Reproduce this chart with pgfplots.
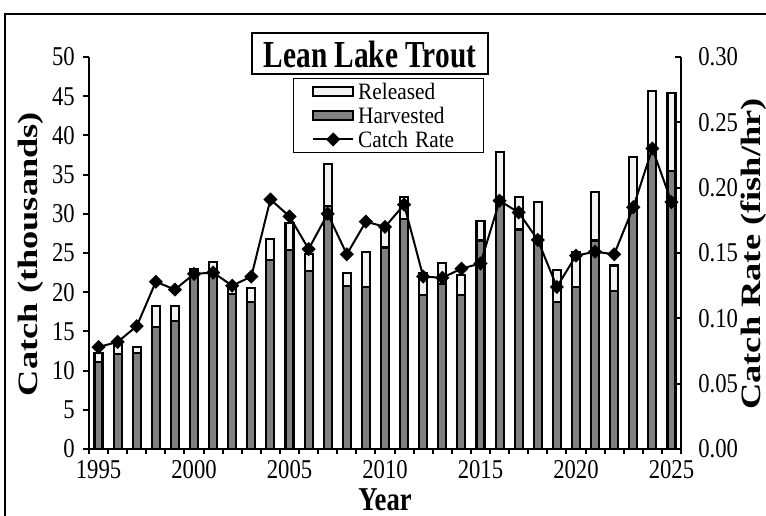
\documentclass[border=0pt]{standalone}
\usepackage{pgfplots}
\pgfplotsset{compat=1.18}
\usepackage{pgfplotstable}
\usepackage{fontspec}
\setmainfont{Liberation Serif}
\definecolor{harvc}{HTML}{808080}
\definecolor{relc}{HTML}{F2F2F2}

\pgfplotstableread{
year harv rel rate
1995 11.1 1.2 0.078
1996 12.1 1.5 0.082
1997 12.2 0.8 0.094
1998 15.6 2.6 0.128
1999 16.3 1.9 0.122
2000 22.2 0.7 0.134
2001 22.8 1.0 0.135
2002 19.8 0.8 0.125
2003 18.8 1.7 0.132
2004 24.1 2.7 0.191
2005 25.4 3.4 0.178
2006 22.7 2.2 0.153
2007 31.0 5.4 0.180
2008 20.8 1.7 0.149
2009 20.7 4.4 0.174
2010 25.7 2.6 0.170
2011 29.3 2.8 0.187
2012 19.6 2.8 0.132
2013 21.0 2.7 0.131
2014 19.6 2.6 0.138
2015 26.6 2.5 0.142
2016 32.1 5.8 0.190
2017 28.0 4.1 0.181
2018 27.2 4.3 0.160
2019 18.7 4.1 0.124
2020 20.7 4.4 0.148
2021 26.6 6.2 0.151
2022 20.2 3.2 0.149
2023 30.7 6.5 0.185
2024 38.2 7.5 0.230
2025 35.5 9.9 0.189
}\data

\begin{document}
\begin{tikzpicture}
\begin{axis}[
  at={(66.75pt,-336.75pt)}, anchor=south west,
  scale only axis, width=444pt, height=294pt,
  xmin=1994.5, xmax=2025.5, ymin=0, ymax=50,
  axis x line*=bottom, axis y line*=left,
  axis line style={line width=1.5pt},
  ybar stacked, bar width=0.42,
  xtick={1995,2000,...,2025},
  xticklabels={1995,2000,2005,2010,2015,2020,2025},
  minor xtick={1994.5,1995.5,...,2025.5},
  every major x tick/.append style={draw=none},
  ytick={0,5,...,50},
  tick align=outside,
  major tick length=4.5pt, minor tick length=3.75pt,
  tick style={line width=1.5pt, black},
  /pgf/number format/assume math mode=true,
  tick label style={font=\fontsize{17}{20}\selectfont, inner sep=0pt, yscale=1.2},
  xticklabel style={yshift=-3pt},
  yticklabel style={xshift=-6pt},
  clip=false,
]
\addplot[fill=harvc, draw=black, line width=1.6pt] table[x=year,y=harv]{\data};
\addplot[fill=relc, draw=black, line width=1.6pt] table[x=year,y=rel]{\data};
\end{axis}

\begin{axis}[
  at={(66.75pt,-336.75pt)}, anchor=south west,
  scale only axis, width=444pt, height=294pt,
  xmin=1994.5, xmax=2025.5, ymin=0, ymax=0.3,
  axis x line=none, axis y line*=right,
  axis line style={line width=1.5pt},
  ytick={0,0.05,0.1,0.15,0.2,0.25,0.3},
  tick align=inside, major tick length=4.5pt,
  tick style={line width=1.5pt, black},
  /pgf/number format/assume math mode=true,
  tick label style={font=\fontsize{17}{20}\selectfont, inner sep=0pt, yscale=1.2},
  yticklabel style={/pgf/number format/fixed, /pgf/number format/fixed zerofill, /pgf/number format/precision=2, xshift=12.75pt},
  legend cell align=left,
  legend image code/.code={\draw[mark repeat=2,mark phase=2,#1] plot coordinates {(0pt,0pt) (15pt,0pt) (30pt,0pt)};},
  legend style={at={(0.3446,0.946)}, anchor=north west, draw=black, line width=0.75pt,
     font=\fontsize{16}{19}\selectfont, inner xsep=14pt, inner ysep=3pt, row sep=4.8pt, column sep=3pt,
     nodes={inner sep=0pt, yscale=1.1, text width=80pt, text height=11.5pt, text depth=0.5pt}},
  clip=false,
]
\addlegendimage{legend image code/.code={\draw[black, line width=1.5pt, fill=relc] (0pt,-3.5pt) rectangle (30pt,3.5pt);}}
\addlegendentry{Released}
\addlegendimage{legend image code/.code={\draw[black, line width=1.5pt, fill=harvc] (0pt,-3.5pt) rectangle (30pt,3.5pt);}}
\addlegendentry{Harvested}
\addplot[black, line width=1.5pt, mark=square*, mark size=3pt, mark options={rotate=45, solid}] table[x=year,y=rate]{\data};
\addlegendentry{Catch Rate}
\end{axis}

\node[draw, line width=1.2pt, minimum width=177pt, minimum height=30.75pt, inner sep=0pt] at (277.5pt,-40.1pt) {};
\node[inner sep=0pt, yscale=1.3, font=\fontsize{22}{26}\selectfont\bfseries] at (277.5pt,-40.6pt) {Lean Lake Trout};
\node[rotate=90, xscale=1.3, inner sep=0pt, font=\fontsize{21}{25}\selectfont\bfseries] at (23.25pt,-190.5pt) {Catch (thousands)};
\node[rotate=90, xscale=1.3, inner sep=0pt, font=\fontsize{21}{25}\selectfont\bfseries] at (565.5pt,-190.5pt) {Catch Rate (fish/hr)};
\node[inner sep=0pt, yscale=1.25, font=\fontsize{20}{24}\selectfont\bfseries] at (288.75pt,-374.5pt) {Year};
\draw[line width=1.5pt] (3.75pt,-400pt) -- (3.75pt,-10.5pt) -- (580pt,-10.5pt);
\pgfresetboundingbox
\path[use as bounding box] (0pt,0pt) rectangle (574.5pt,-387pt);
\end{tikzpicture}
\end{document}
